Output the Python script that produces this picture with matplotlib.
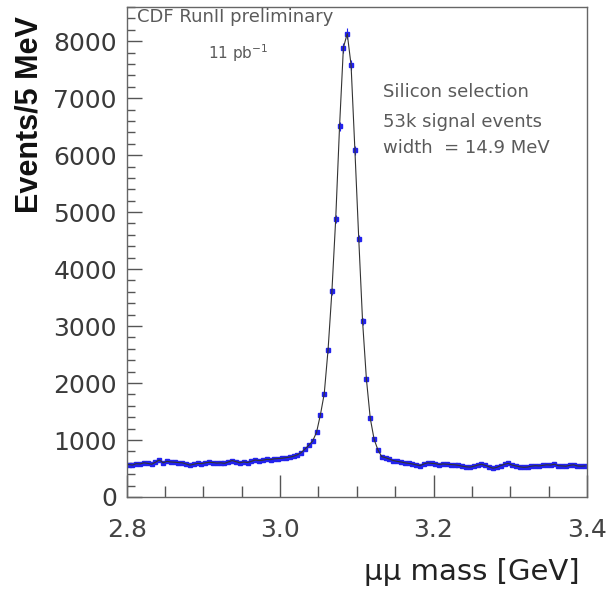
import numpy as np
import matplotlib
matplotlib.use('Agg')
import matplotlib.pyplot as plt
from matplotlib.ticker import MultipleLocator

# bin edges: 5 MeV bins between 2.8 and 3.4 GeV
mass_lo = 2.8
mass_hi = 3.4
bin_width = 0.005

# events per bin
counts = [
    570, 560, 585, 580, 600, 590, 575, 610, 650, 600,
    625, 615, 610, 605, 600, 580, 560, 575, 590, 585,
    600, 610, 605, 595, 600, 590, 615, 640, 620, 600,
    615, 605, 625, 650, 640, 645, 660, 655, 670, 675,
    680, 690, 700, 715, 740, 780, 843, 910, 984, 1137,
    1441, 1810, 2583, 3608, 4886, 6508, 7886, 8132, 7580, 6086,
    4534, 3081, 2068, 1383, 1014, 826, 708, 690, 665, 640,
    625, 615, 600, 590, 580, 565, 550, 580, 600, 590,
    585, 570, 580, 575, 570, 565, 555, 540, 530, 525,
    540, 560, 575, 555, 530, 505, 520, 550, 575, 590,
    560, 545, 530, 520, 525, 540, 550, 545, 555, 565,
    560, 575, 550, 545, 540, 555, 565, 545, 540, 545,
]

edges = np.arange(len(counts) + 1) * bin_width + mass_lo
centers = 0.5 * (edges[:-1] + edges[1:])
counts = np.array(counts, dtype=float)
errors = np.sqrt(counts)

fig = plt.figure(figsize=(6.07, 5.89), dpi=100)
ax = fig.add_axes([0.2087, 0.1562, 0.7583, 0.832])

# data points + curve
ax.errorbar(centers, counts, yerr=errors, fmt='s', ms=2.3, color='#2222ee',
            ecolor='#2222ee', elinewidth=0.8, capsize=0, zorder=2)
ax.plot(centers, counts, '-', color='#333333', lw=0.8, zorder=3)

ax.set_xlim(mass_lo, mass_hi)
ax.set_ylim(0, 8600)

ax.xaxis.set_major_locator(MultipleLocator(0.2))
ax.xaxis.set_minor_locator(MultipleLocator(0.05))
ax.yaxis.set_major_locator(MultipleLocator(1000))
ax.yaxis.set_minor_locator(MultipleLocator(200))
ax.xaxis.set_major_formatter(matplotlib.ticker.FormatStrFormatter('%.1f'))

ax.tick_params(axis='both', which='both', direction='in', colors='#555555',
               top=False, right=False)
ax.tick_params(axis='y', which='major', length=11, width=1, pad=7,
               labelsize=18, labelcolor='#3a3a3a')
ax.tick_params(axis='y', which='minor', length=6, width=1)
ax.tick_params(axis='x', which='major', length=16, width=1, pad=15,
               labelsize=18, labelcolor='#444444')
ax.tick_params(axis='x', which='minor', length=8, width=1)

for s in ax.spines.values():
    s.set_color('#666666')
    s.set_linewidth(1.0)

# annotations
txt_col = '#5a5a5a'
ax.text(0.022, 0.98, 'CDF RunII preliminary', transform=ax.transAxes,
        fontsize=13, color=txt_col, ha='left', va='center')
ax.text(0.176, 0.906, '11 pb$^{-1}$', transform=ax.transAxes,
        fontsize=11, color=txt_col, ha='left', va='center')
ax.text(0.557, 0.827, 'Silicon selection', transform=ax.transAxes,
        fontsize=13, color=txt_col, ha='left', va='center')
ax.text(0.557, 0.766, '53k signal events', transform=ax.transAxes,
        fontsize=13, color=txt_col, ha='left', va='center')
ax.text(0.557, 0.712, 'width  = 14.9 MeV', transform=ax.transAxes,
        fontsize=13, color=txt_col, ha='left', va='center')

# axis titles
fig.text(0.049, 0.805, 'Events/5 MeV', rotation=90, ha='center', va='center',
         fontsize=22, fontweight='bold', family='Liberation Sans', color='#111111')
fig.text(0.955, 0.029, 'μμ mass [GeV]', ha='right', va='center',
         fontsize=21, color='#222222')

fig.savefig('out.png', dpi=100)
